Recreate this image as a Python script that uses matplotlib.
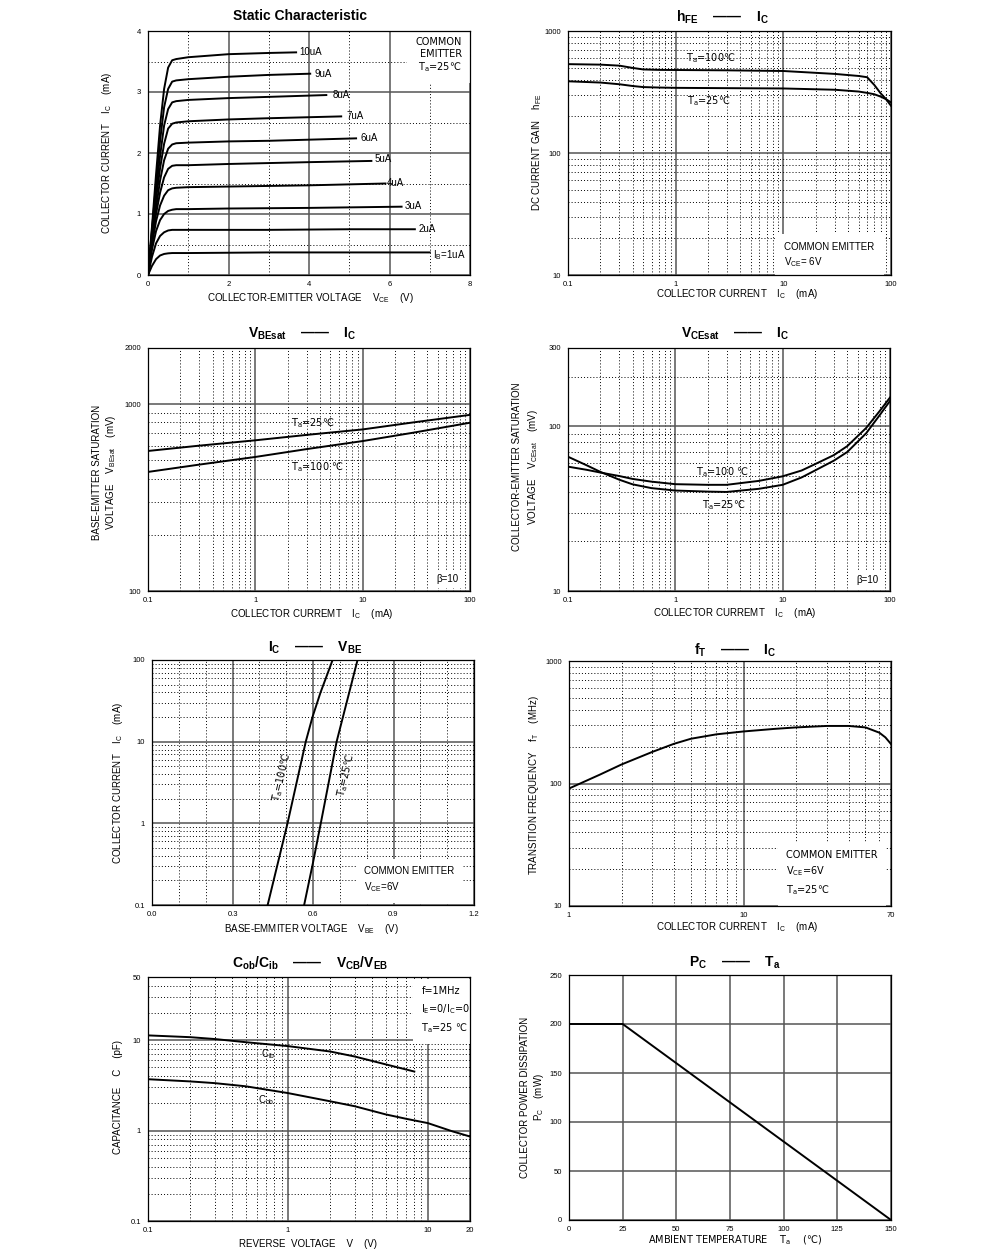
import matplotlib
matplotlib.use('Agg')
import matplotlib.pyplot as plt
from matplotlib.ticker import NullFormatter
from matplotlib import font_manager as fm

plt.rcParams['font.family'] = ['Liberation Sans', 'DejaVu Sans', 'Noto Sans CJK SC']
plt.rcParams['mathtext.fontset'] = 'custom'
plt.rcParams['mathtext.rm'] = 'Liberation Sans'
plt.rcParams['axes.axisbelow'] = True

# font for strings holding the degree sign glyph
_lib = fm.get_font(fm.findfont('Liberation Sans'))
DEG_FAM = 'Liberation Sans' if 0x2103 in _lib.get_charmap() else 'DejaVu Sans'

# ---- data ----
# static characteristic, IC (mA) vs VCE (V) for each base current
ib_labels = ['I$_\\mathregular{B}$=1uA', '2uA', '3uA', '4uA', '5uA',
             '6uA', '7uA', '8uA', '9uA', '10uA']
vce_knee = [0, 0.1, 0.2, 0.3, 0.4, 0.5, 0.6, 0.7]
ic_knee = [
    [0, 0.15, 0.26, 0.32, 0.345, 0.355, 0.36, 0.36],
    [0, 0.30, 0.52, 0.64, 0.70, 0.73, 0.74, 0.74],
    [0, 0.42, 0.72, 0.90, 1.00, 1.05, 1.07, 1.08],
    [0, 0.50, 0.88, 1.14, 1.30, 1.39, 1.42, 1.43],
    [0, 0.55, 1.00, 1.35, 1.60, 1.74, 1.79, 1.80],
    [0, 0.60, 1.10, 1.55, 1.88, 2.07, 2.14, 2.16],
    [0, 0.65, 1.25, 1.75, 2.15, 2.40, 2.48, 2.50],
    [0, 0.70, 1.38, 1.95, 2.45, 2.72, 2.83, 2.85],
    [0, 0.75, 1.50, 2.20, 2.75, 3.05, 3.17, 3.19],
    [0, 0.80, 1.65, 2.45, 3.05, 3.40, 3.52, 3.54],
]
vce_tail = [
    [1, 3, 5, 7.0],
    [1, 3, 5, 6.63],
    [1, 2, 4, 6.3],
    [1, 2, 4, 5.9],
    [1, 2, 4, 5.55],
    [1, 2, 3, 5.17],
    [1, 2, 3, 4.8],
    [1, 2, 3, 4.43],
    [1, 2, 3, 4.03],
    [1, 2, 3, 3.68],
]
ic_tail = [
    [0.36, 0.37, 0.37, 0.37],
    [0.74, 0.74, 0.75, 0.75],
    [1.08, 1.09, 1.10, 1.12],
    [1.44, 1.45, 1.47, 1.50],
    [1.80, 1.82, 1.85, 1.87],
    [2.17, 2.19, 2.20, 2.24],
    [2.52, 2.55, 2.57, 2.60],
    [2.87, 2.90, 2.92, 2.95],
    [3.21, 3.25, 3.28, 3.30],
    [3.57, 3.62, 3.64, 3.65],
]
ib_label_pos = [(7.08, 0.32), (6.72, 0.75), (6.38, 1.13), (5.93, 1.51), (5.62, 1.90),
                (5.28, 2.24), (4.93, 2.61), (4.58, 2.95), (4.14, 3.30), (3.77, 3.66)]

# hFE vs IC
hfe_ic = [0.1, 0.2, 0.3, 0.4, 0.5, 0.7, 1, 3, 10, 30, 50, 60, 70, 80, 90, 100]
hfe_100 = [535, 530, 520, 498, 484, 480, 479, 476, 470, 445, 428, 418, 361, 309, 276, 244]
hfe_25 = [387, 378, 366, 354, 347, 344, 342, 340, 338, 330, 319, 311, 303, 290, 276, 260]

# VBEsat vs IC
vbes_ic = [0.1, 0.3, 1, 3, 10, 30, 100]
vbes_25 = [562, 600, 641, 685, 733, 800, 877]
vbes_100 = [434, 475, 522, 575, 635, 705, 796]

# VCEsat vs IC
vces_ic = [0.1, 0.15, 0.2, 0.3, 0.4, 0.6, 1, 2, 3, 6, 10, 15, 20, 30, 40, 60, 80, 100]
vces_100 = [57, 54.5, 52.5, 50, 48, 46.2, 44.6, 44.2, 44.2, 46.7, 49.8, 54, 59, 67, 76, 98, 124, 150]
vces_25 = [65.5, 58, 53, 47.5, 44.5, 42.2, 40.8, 40.2, 40, 41.8, 44.2, 49, 54, 62, 70, 91, 117, 143]

# IC vs VBE
icv_100 = [0.1, 1, 10, 20, 40, 60, 100]
vbe_100 = [0.431, 0.505, 0.573, 0.598, 0.628, 0.648, 0.673]
icv_25 = [0.1, 0.33, 1, 10, 100]
vbe_25 = [0.567, 0.600, 0.629, 0.688, 0.766]

# fT vs IC
ft_ic = [1, 1.5, 2, 3, 4, 5, 7, 10, 15, 20, 30, 40, 50, 60, 65, 70]
ft_val = [91, 118, 143, 181, 211, 232, 252, 266, 279, 287, 295, 295, 287, 260, 238, 210]

# Cob / Cib vs reverse voltage
cib_v = [0.1, 0.2, 0.3, 0.5, 1, 2, 3, 5, 8]
cib = [11.3, 10.8, 10.3, 9.5, 8.6, 7.5, 6.6, 5.4, 4.5]
cob_v = [0.1, 0.2, 0.3, 0.5, 1, 2, 3, 5, 7, 10, 15, 20]
cob = [3.7, 3.5, 3.35, 3.09, 2.6, 2.11, 1.86, 1.51, 1.35, 1.21, 0.98, 0.86]

# PC vs Ta
pc_ta = [0, 25, 150]
pc_mw = [200, 200, 0]

W, H = 991, 1249
fig = plt.figure(figsize=(9.91, 12.49), dpi=100)


def add_ax(x0, y0, x1, y1):
    return fig.add_axes([x0 / W, 1 - y1 / H, (x1 - x0) / W, (y1 - y0) / H])


def ftext(x, y, s, **kw):
    kw.setdefault('fontsize', 7)
    if '℃' in s:
        kw['family'] = DEG_FAM
    return fig.text(x / W, 1 - y / H, s, **kw)


def atext(ax, x, y, s, **kw):
    kw.setdefault('fontsize', 7)
    if '℃' in s:
        kw['family'] = DEG_FAM
    return ax.text(x, y, s, **kw)


def note(ax, x, y, s, pad=6, **kw):
    # annotation on a white patch that hides the grid but not curves or frame
    kw.setdefault('linespacing', 1.5)
    return atext(ax, x, y, s, zorder=1,
                 bbox=dict(facecolor='white', edgecolor='none', pad=pad), **kw)


def title(x, y, s):
    ftext(x, y, s, fontsize=10, fontweight='bold', ha='center', va='center')


def style(ax, xmaj, xlab, xmin_, ymaj, ylab, ymin_, xlim, ylim, logx=False, logy=False):
    if logx:
        ax.set_xscale('log')
    if logy:
        ax.set_yscale('log')
    ax.set_xticks(xmaj)
    ax.set_xticklabels(xlab)
    ax.set_yticks(ymaj)
    ax.set_yticklabels(ylab)
    ax.set_xticks(xmin_, minor=True)
    ax.set_yticks(ymin_, minor=True)
    ax.xaxis.set_minor_formatter(NullFormatter())
    ax.yaxis.set_minor_formatter(NullFormatter())
    ax.tick_params(which='both', length=0, labelsize=5.5)
    ax.tick_params(axis='x', pad=4)
    ax.tick_params(axis='y', pad=5)
    ax.grid(which='major', color='#555555', lw=1.1, ls='-')
    ax.grid(which='minor', color='black', lw=0.7, ls=(0, (1, 2.2)))
    for s in ax.spines.values():
        s.set_linewidth(0.9)
        s.set_zorder(4)
    ax.set_xlim(xlim)
    ax.set_ylim(ylim)


dec = lambda lo, hi: [m * 10 ** e for e in range(lo, hi) for m in range(2, 10)]
LW = 1.4

# ---------- 1. static characteristic ----------
ax1 = add_ax(148, 31, 470, 275)
style(ax1, [0, 2, 4, 6, 8], ['0', '2', '4', '6', '8'], [1, 3, 5, 7],
      [0, 1, 2, 3, 4], ['0', '1', '2', '3', '4'], [0.5, 1.5, 2.5, 3.5], (0, 8), (0, 4))
for k in range(len(ib_labels)):
    ax1.plot(vce_knee + vce_tail[k], ic_knee[k] + ic_tail[k], color='black', lw=LW)
    atext(ax1, ib_label_pos[k][0], ib_label_pos[k][1], ib_labels[k], ha='left', va='center')
note(ax1, 7.22, 3.9, 'COMMON\nEMITTER\nT$_\\mathregular{a}$=25℃', ha='center', va='top',
     multialignment='right', linespacing=1.2)
title(300, 16, 'Static Characteristic')
ftext(310, 298, 'COLLECTOR-EMITTER VOLTAGE    V$_\\mathregular{CE}$    (V)', ha='center', va='center')
ftext(107, 153, 'COLLECTOR CURRENT    I$_\\mathregular{C}$    (mA)', ha='center', va='center', rotation=90)

# ---------- 2. hFE - IC ----------
ax2 = add_ax(568, 31, 891, 275)
style(ax2, [0.1, 1, 10, 100], ['0.1', '1', '10', '100'], dec(-1, 2),
      [10, 100, 1000], ['10', '100', '1000'], dec(1, 3), (0.1, 100), (10, 1000), True, True)
ax2.plot(hfe_ic, hfe_100, color='black', lw=LW)
ax2.plot(hfe_ic, hfe_25, color='black', lw=LW)
atext(ax2, 1.24, 595, 'T$_\\mathregular{a}$=100℃', ha='left', va='center')
atext(ax2, 1.28, 265, 'T$_\\mathregular{a}$=25℃', ha='left', va='center')
note(ax2, 10.2, 11.2, 'COMMON EMITTER\nV$_\\mathregular{CE}$= 6V', pad=7, ha='left', va='bottom',
     linespacing=1.3)
title(722, 17, 'h$_\\mathregular{FE}$    ——    I$_\\mathregular{C}$')
ftext(737, 294, 'COLLECTOR CURRENT    I$_\\mathregular{C}$    (mA)', ha='center', va='center')
ftext(537, 152, 'DC CURRENT GAIN    h$_\\mathregular{FE}$', ha='center', va='center', rotation=90)

# ---------- 3. VBEsat - IC ----------
ax3 = add_ax(148, 348, 470, 591)
style(ax3, [0.1, 1, 10, 100], ['0.1', '1', '10', '100'], dec(-1, 2),
      [100, 1000, 2000], ['100', '1000', '2000'], dec(2, 3), (0.1, 100), (100, 2000), True, True)
ax3.plot(vbes_ic, vbes_25, color='black', lw=LW)
ax3.plot(vbes_ic, vbes_100, color='black', lw=LW)
atext(ax3, 2.15, 794, 'T$_\\mathregular{a}$=25℃', ha='left', va='center')
atext(ax3, 2.15, 458, 'T$_\\mathregular{a}$=100 ℃', ha='left', va='center')
note(ax3, 78, 116, 'β=10', pad=3, ha='right', va='center')
title(302, 334, 'V$_\\mathregular{BEsat}$    ——    I$_\\mathregular{C}$')
ftext(312, 614, 'COLLECTOR CURREMT    I$_\\mathregular{C}$    (mA)', ha='center', va='center')
ftext(105, 472, 'BASE-EMITTER SATURATION\nVOLTAGE    V$_\\mathregular{BEsat}$    (mV)',
      ha='center', va='center', rotation=90, multialignment='center', linespacing=1.3)

# ---------- 4. VCEsat - IC ----------
ax4 = add_ax(568, 348, 890, 591)
style(ax4, [0.1, 1, 10, 100], ['0.1', '1', '10', '100'], dec(-1, 2),
      [10, 100, 300], ['10', '100', '300'], dec(1, 2) + [200], (0.1, 100), (10, 300), True, True)
ax4.plot(vces_ic, vces_100, color='black', lw=LW)
ax4.plot(vces_ic, vces_25, color='black', lw=LW)
atext(ax4, 1.56, 53, 'T$_\\mathregular{a}$=100 ℃', ha='left', va='center')
atext(ax4, 1.77, 33.4, 'T$_\\mathregular{a}$=25℃', ha='left', va='center')
note(ax4, 78, 11.7, 'β=10', pad=3, ha='right', va='center')
title(735, 334, 'V$_\\mathregular{CEsat}$    ——    I$_\\mathregular{C}$')
ftext(735, 613, 'COLLECTOR CURREMT    I$_\\mathregular{C}$    (mA)', ha='center', va='center')
ftext(526, 467, 'COLLECTOR-EMITTER SATURATION\nVOLTAGE    V$_\\mathregular{CEsat}$    (mV)',
      ha='center', va='center', rotation=90, multialignment='center', linespacing=1.3)

# ---------- 5. IC - VBE ----------
ax5 = add_ax(152, 660, 474, 905)
style(ax5, [0, 0.3, 0.6, 0.9, 1.2], ['0.0', '0.3', '0.6', '0.9', '1.2'],
      [0.1, 0.2, 0.4, 0.5, 0.7, 0.8, 1.0, 1.1],
      [0.1, 1, 10, 100], ['0.1', '1', '10', '100'], dec(-1, 2), (0, 1.2), (0.1, 100), False, True)
ax5.plot(vbe_100, icv_100, color='black', lw=LW)
ax5.plot(vbe_25, icv_25, color='black', lw=LW)
atext(ax5, 0.484, 3.7, 'T$_\\mathregular{a}$=100℃', ha='center', va='center', rotation=77)
atext(ax5, 0.722, 3.9, 'T$_\\mathregular{a}$=25℃', ha='center', va='center', rotation=77)
note(ax5, 0.79, 0.135, 'COMMON EMITTER\nV$_\\mathregular{CE}$=6V', ha='left', va='bottom')
title(315, 648, 'I$_\\mathregular{C}$    ——    V$_\\mathregular{BE}$')
ftext(312, 929, 'BASE-EMMITER VOLTAGE    V$_\\mathregular{BE}$    (V)', ha='center', va='center')
ftext(118, 783, 'COLLECTOR CURRENT    I$_\\mathregular{C}$    (mA)', ha='center', va='center', rotation=90)

# ---------- 6. fT - IC ----------
ax6 = add_ax(569, 661, 891, 906)
style(ax6, [1, 10, 70], ['1', '10', '70'], list(range(2, 10)) + [20, 30, 40, 50, 60],
      [10, 100, 1000], ['10', '100', '1000'], dec(1, 3), (1, 70), (10, 1000), True, True)
ax6.plot(ft_ic, ft_val, color='black', lw=LW)
note(ax6, 17.5, 11.8, 'COMMON EMITTER\nV$_\\mathregular{CE}$=6V\nT$_\\mathregular{a}$=25℃',
     ha='left', va='bottom')
title(735, 650, 'f$_\\mathregular{T}$    ——    I$_\\mathregular{C}$')
ftext(737, 927, 'COLLECTOR CURRENT    I$_\\mathregular{C}$    (mA)', ha='center', va='center')
ftext(534, 785, 'TRANSITION FREQUENCY    f$_\\mathregular{T}$    (MHz)', ha='center', va='center', rotation=90)

# ---------- 7. Cob/Cib - VCB/VEB ----------
ax7 = add_ax(148, 977, 470, 1221)
style(ax7, [0.1, 1, 10, 20], ['0.1', '1', '10', '20'], dec(-1, 1),
      [0.1, 1, 10, 50], ['0.1', '1', '10', '50'], dec(-1, 1) + [20, 30, 40],
      (0.1, 20), (0.1, 50), True, True)
ax7.plot(cib_v, cib, color='black', lw=LW)
ax7.plot(cob_v, cob, color='black', lw=LW)
atext(ax7, 0.72, 7.0, 'C$_\\mathregular{ib}$', ha='center', va='center')
atext(ax7, 0.70, 2.2, 'C$_\\mathregular{ob}$', ha='center', va='center')
note(ax7, 9.0, 40, 'f=1MHz\nI$_\\mathregular{E}$=0/I$_\\mathregular{C}$=0\nT$_\\mathregular{a}$=25 ℃',
     ha='left', va='top', linespacing=1.6)
title(310, 963, 'C$_\\mathregular{ob}$/C$_\\mathregular{ib}$    ——    V$_\\mathregular{CB}$/V$_\\mathregular{EB}$')
ftext(308, 1244, 'REVERSE  VOLTAGE    V    (V)', ha='center', va='center')
ftext(118, 1097, 'CAPACITANCE    C    (pF)', ha='center', va='center', rotation=90)

# ---------- 8. PC - Ta ----------
ax8 = add_ax(569, 975, 891, 1220)
style(ax8, [0, 25, 50, 75, 100, 125, 150], ['0', '25', '50', '75', '100', '125', '150'], [],
      [0, 50, 100, 150, 200, 250], ['0', '50', '100', '150', '200', '250'], [],
      (0, 150), (0, 250))
ax8.plot(pc_ta, pc_mw, color='black', lw=LW)
title(735, 963, 'P$_\\mathregular{C}$    ——    T$_\\mathregular{a}$')
ftext(735, 1240, 'AMBIENT TEMPERATURE    T$_\\mathregular{a}$    (℃)', ha='center', va='center')
ftext(533, 1097, 'COLLECTOR POWER DISSIPATION\nP$_\\mathregular{C}$    (mW)',
      ha='center', va='center', rotation=90, multialignment='center', linespacing=1.3)

fig.savefig('out.png', dpi=100)
